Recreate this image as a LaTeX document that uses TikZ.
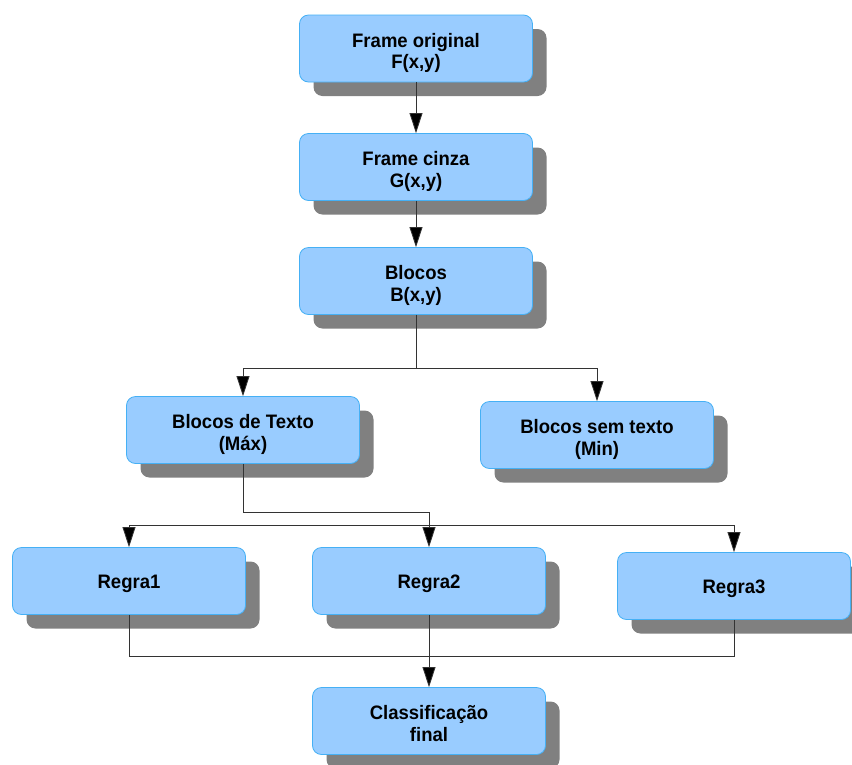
\documentclass[tikz,border=0pt]{standalone}
\usepackage{fontspec}
\setmainfont[FakeStretch=0.95]{Liberation Sans}
\usetikzlibrary{arrows.meta,shadows}
\definecolor{boxfill}{HTML}{99CCFF}
\definecolor{boxline}{HTML}{45B0F5}
\definecolor{shadowgray}{HTML}{808080}
\definecolor{wire}{HTML}{333333}
\begin{document}
\begin{tikzpicture}[x=1pt,y=-1pt,
  stepbox/.style={draw=boxline, line width=0.8pt, fill=boxfill,
    rounded corners=9pt, minimum width=233pt, minimum height=67pt,
    align=center, inner sep=0pt,
    font=\fontsize{19.5}{21.5}\selectfont\bfseries,
    drop shadow={shadow xshift=14pt, shadow yshift=-14pt,
      fill=shadowgray, opacity=1}},
  % the text box sits on its last baseline
  twoline/.style={stepbox, text height=40pt, text depth=0pt},
  oneline/.style={stepbox, text height=14pt, text depth=0pt},
  wireline/.style={draw=wire, line width=0.8pt},
  flow/.style={wireline, -{Triangle[length=20pt,width=13pt,fill=black]}}]
\useasboundingbox (0,0) rectangle (852,764);
\fill[white] (0,0) rectangle (852,764);

% boxes
\node[twoline] (f)  at (416,48.5) {Frame original\\F(x,y)};
\node[twoline] (g)  at (416,167)  {Frame cinza\\G(x,y)};
\node[twoline] (b)  at (416,281)  {Blocos\\B(x,y)};
\node[twoline] (bt) at (243,430)  {Blocos de Texto\\(Máx)};
\node[twoline] (bs) at (597,435)  {Blocos sem texto\\(Min)};
\node[oneline] (r1) at (129,581)  {Regra1};
\node[oneline] (r2) at (429,581)  {Regra2};
\node[oneline] (r3) at (734,586)  {Regra3};
\node[twoline] (cf) at (429,721)  {Classificação\\final};

% junction points
\coordinate (j1) at (416,368);
\coordinate (j2) at (429,525);
\coordinate (j3) at (429,656);

% connectors
\draw[flow] (f.south) -- (g.north);
\draw[flow] (g.south) -- (b.north);
\draw[wireline] (b.south) -- (j1);
\draw[flow] (j1) -| (bt.north);
\draw[flow] (j1) -| (bs.north);
\draw[flow] (bt.south) -- ++(0,48.5) -| (r2.north);
\draw[flow] (j2) -| (r1.north);
\draw[flow] (j2) -| (r3.north);
\draw[wireline] (r1.south) |- (j3);
\draw[wireline] (r3.south) |- (j3);
\draw[flow] (r2.south) -- (cf.north);
\end{tikzpicture}
\end{document}
